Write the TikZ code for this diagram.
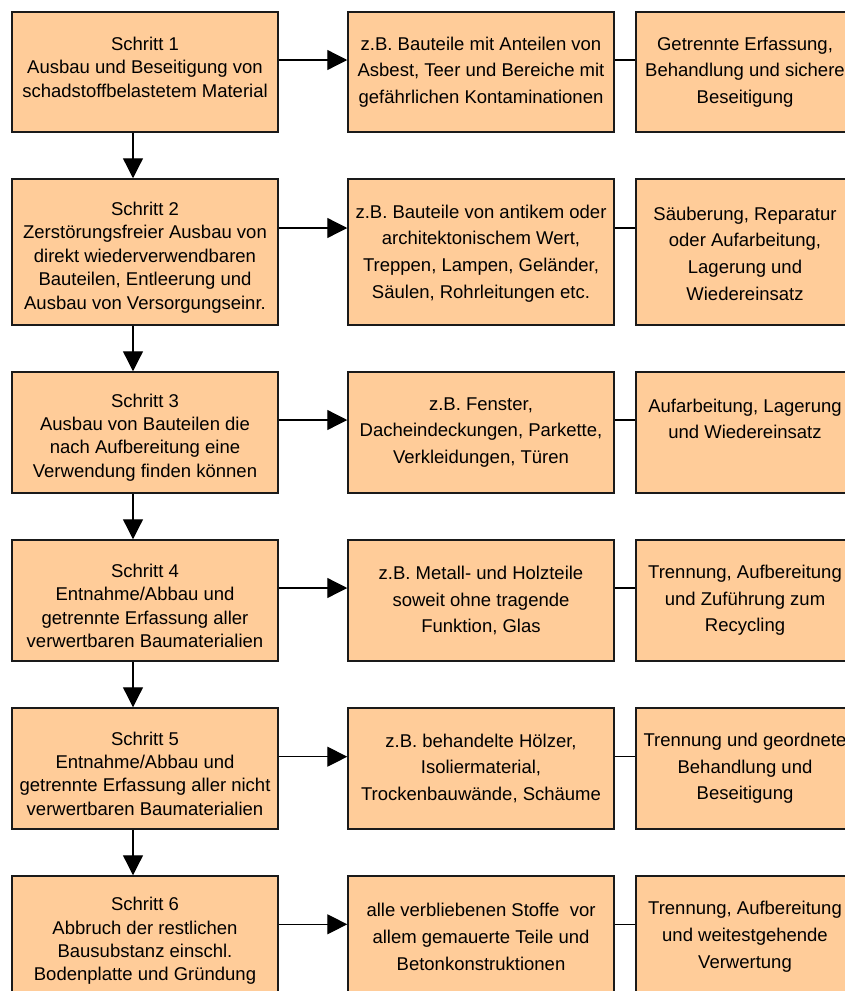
\documentclass[tikz,border=0pt]{standalone}
\usepackage{fontspec}
\setmainfont{Liberation Sans}
\usetikzlibrary{arrows.meta}
\definecolor{boxfill}{HTML}{FFCC99}
\definecolor{boxline}{HTML}{1A1A1A}
\begin{document}
\begin{tikzpicture}[x=1pt,y=-1pt,
  box/.style={draw=boxline, line width=1.5pt, fill=boxfill, rectangle, inner sep=0pt},
  lbox/.style={box, minimum width=266pt},
  mbox/.style={box, minimum width=266pt},
  rbox/.style={box, minimum width=218pt},
  ltext/.style={align=center, inner sep=0pt, text=black, font=\fontsize{18.5}{23.4}\selectfont},
  mtext/.style={align=center, inner sep=0pt, text=black, font=\fontsize{18.5}{26.7}\selectfont},
  arr/.style={draw=black, line width=1.3pt, -{Triangle[length=20pt,width=20pt]}},
  link/.style={draw=black, line width=1.3pt}]
\useasboundingbox (0,0) rectangle (845,991);
\fill[white] (0,0) rectangle (845,991);
\clip (0,0) rectangle (845,991);

% Row 1
\node[lbox, minimum height=120pt] (L1) at (145,72) {};
\node[mbox, minimum height=120pt] (M1) at (481,72) {};
\node[rbox, minimum height=120pt] (R1) at (745,72) {};
% Row 2
\node[lbox, minimum height=146pt] (L2) at (145,252) {};
\node[mbox, minimum height=146pt] (M2) at (481,252) {};
\node[rbox, minimum height=146pt] (R2) at (745,252) {};
% Row 3
\node[lbox, minimum height=121pt] (L3) at (145,432.5) {};
\node[mbox, minimum height=121pt] (M3) at (481,432.5) {};
\node[rbox, minimum height=121pt] (R3) at (745,432.5) {};
% Row 4
\node[lbox, minimum height=121pt] (L4) at (145,600.5) {};
\node[mbox, minimum height=121pt] (M4) at (481,600.5) {};
\node[rbox, minimum height=121pt] (R4) at (745,600.5) {};
% Row 5
\node[lbox, minimum height=121pt] (L5) at (145,768.5) {};
\node[mbox, minimum height=121pt] (M5) at (481,768.5) {};
\node[rbox, minimum height=121pt] (R5) at (745,768.5) {};
% Row 6
\node[lbox, minimum height=120pt] (L6) at (145,936) {};
\node[mbox, minimum height=120pt] (M6) at (481,936) {};
\node[rbox, minimum height=120pt] (R6) at (745,936) {};

% Texts left
\node[ltext] (L1t) at (145,67) {Schritt 1\\Ausbau und Beseitigung von\\schadstoffbelastetem Material};
\node[ltext] (L2t) at (145,257.5) {Schritt 2\\Zerstörungsfreier Ausbau von\\direkt wiederverwendbaren\\Bauteilen, Entleerung und\\Ausbau von Versorgungseinr.};
\node[ltext] (L3t) at (145,437.5) {Schritt 3\\Ausbau von Bauteilen die\\nach Aufbereitung eine\\Verwendung finden können};
\node[ltext] (L4t) at (145,606) {Schritt 4\\Entnahme/Abbau und\\getrennte Erfassung aller\\verwertbaren Baumaterialien};
\node[ltext] (L5t) at (145,773.5) {Schritt 5\\Entnahme/Abbau und\\getrennte Erfassung aller nicht\\verwertbaren Baumaterialien};
\node[ltext] (L6t) at (145,941) {Schritt 6\\Abbruch der restlichen\\Bausubstanz einschl.\\Bodenplatte und Gründung};

% Texts middle
\node[mtext] (M1t) at (481,72) {z.B. Bauteile mit Anteilen von\\Asbest, Teer und Bereiche mit\\gefährlichen Kontaminationen};
\node[mtext] (M2t) at (481,253.5) {z.B. Bauteile von antikem oder\\architektonischem Wert,\\Treppen, Lampen, Geländer,\\Säulen, Rohrleitungen etc.};
\node[mtext] (M3t) at (481,432.5) {z.B. Fenster,\\Dacheindeckungen, Parkette,\\Verkleidungen, Türen};
\node[mtext] (M4t) at (481,600.5) {z.B. Metall- und Holzteile\\soweit ohne tragende\\Funktion, Glas};
\node[mtext] (M5t) at (481,768.3) {z.B. behandelte Hölzer,\\Isoliermaterial,\\Trockenbauwände, Schäume};
\node[mtext] (M6t) at (481,936.7) {alle verbliebenen Stoffe~ vor\\allem gemauerte Teile und\\Betonkonstruktionen};

% Texts right
\node[mtext] (R1t) at (745,72) {Getrennte Erfassung,\\Behandlung und sichere\\Beseitigung};
\node[mtext] (R2t) at (745,253.5) {Säuberung, Reparatur\\oder Aufarbeitung,\\Lagerung und\\Wiedereinsatz};
\node[mtext] (R3t) at (745,419) {Aufarbeitung, Lagerung\\und Wiedereinsatz};
\node[mtext] (R4t) at (745,600.5) {Trennung, Aufbereitung\\und Zuführung zum\\Recycling};
\node[mtext] (R5t) at (745,768.3) {Trennung und geordnete\\Behandlung und\\Beseitigung};
\node[mtext] (R6t) at (745,936.7) {Trennung, Aufbereitung\\und weitestgehende\\Verwertung};

% Horizontal arrows and links
\foreach \r/\yy in {1/60, 2/228, 3/420, 4/588, 5/756.7, 6/924.3} {
  \draw[arr] (L\r.east |- 0,\yy) -- (M\r.west |- 0,\yy);
  \draw[link] (M\r.east |- 0,\yy) -- (R\r.west |- 0,\yy);
}
% Vertical arrows
\foreach \a/\b in {1/2, 2/3, 3/4, 4/5, 5/6} {
  \draw[arr] (L\a.south -| 133,0) -- (L\b.north -| 133,0);
}
\end{tikzpicture}
\end{document}
